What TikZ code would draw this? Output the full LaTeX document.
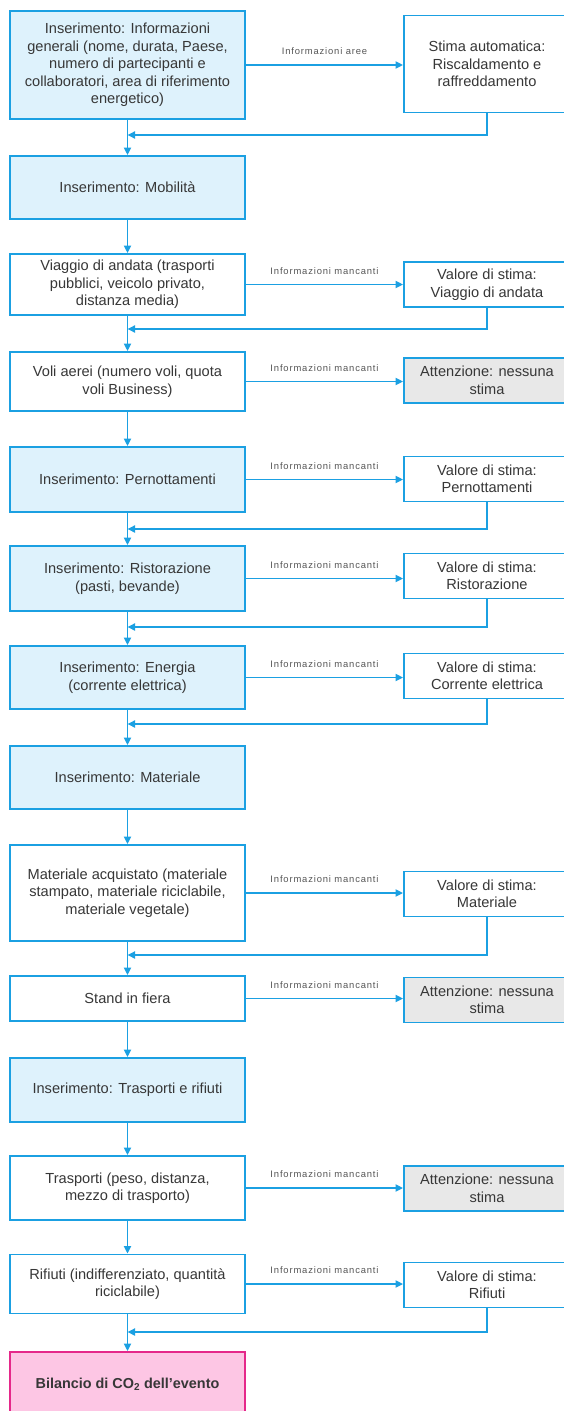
\documentclass[tikz,border=0pt]{standalone}
\usepackage{fontspec}
\setmainfont{Liberation Sans}
\usetikzlibrary{arrows.meta}
\definecolor{lineblue}{RGB}{27,160,226}
\definecolor{fillblue}{RGB}{222,242,252}
\definecolor{fillgray}{RGB}{232,232,232}
\definecolor{fillpink}{RGB}{253,198,228}
\definecolor{pinkline}{RGB}{229,40,138}
\definecolor{textgray}{RGB}{55,55,55}
\definecolor{lblgray}{RGB}{85,85,85}
\begin{document}
\begin{tikzpicture}[x=1pt,y=-1pt,
  basebox/.style={draw=lineblue, line width=1.8pt, text=textgray,
    font=\fontsize{14.6}{17.5}\selectfont, align=center, inner sep=0pt},
  inbox/.style={basebox, fill=fillblue, minimum width=235pt},
  wbox/.style={basebox, fill=white, minimum width=235pt},
  rbox/.style={basebox, fill=white, minimum width=166pt, minimum height=45pt},
  gbox/.style={basebox, fill=fillgray, minimum width=166pt, minimum height=45pt},
  resbox/.style={basebox, draw=pinkline, fill=fillpink, minimum width=235pt,
    font=\fontsize{14.4}{17}\selectfont\bfseries},
  arr/.style={draw=lineblue, line width=1.8pt, -{Triangle[length=7.5pt,width=7pt]}},
  lbl/.style={text=lblgray, inner sep=0pt, above=9.5pt,
    font=\fontsize{9.4}{11}\selectfont\addfontfeature{LetterSpace=9}}
]
\useasboundingbox (0,0) rectangle (563,1411);

% left column
\node[inbox, minimum height=108pt] (l1) at (127.5,65) {Inserimento: Informazioni\\generali (nome, durata, Paese,\\numero di partecipanti e\\collaboratori, area di riferimento\\energetico)};
\node[inbox, minimum height=63pt] (l2) at (127.5,187.5) {Inserimento: Mobilità};
\node[wbox, minimum height=61pt] (l3) at (127.5,284.5) {Viaggio di andata (trasporti\\pubblici, veicolo privato,\\distanza media)};
\node[wbox, minimum height=59pt] (l4) at (127.5,381.5) {Voli aerei (numero voli, quota\\voli Business)};
\node[inbox, minimum height=65pt] (l5) at (127.5,479.5) {Inserimento: Pernottamenti};
\node[inbox, minimum height=65pt] (l6) at (127.5,578.5) {Inserimento: Ristorazione\\(pasti, bevande)};
\node[inbox, minimum height=63pt] (l7) at (127.5,677.5) {Inserimento: Energia\\(corrente elettrica)};
\node[inbox, minimum height=63pt] (l8) at (127.5,777.5) {Inserimento: Materiale};
\node[wbox, minimum height=96pt] (l9) at (127.5,893) {Materiale acquistato (materiale\\stampato, materiale riciclabile,\\materiale vegetale)};
\node[wbox, minimum height=45pt] (l10) at (127.5,998.5) {Stand in fiera};
\node[inbox, minimum height=64pt] (l11) at (127.5,1090) {Inserimento: Trasporti e rifiuti};
\node[wbox, minimum height=64pt] (l12) at (127.5,1188) {Trasporti (peso, distanza,\\mezzo di trasporto)};
\node[wbox, minimum height=59pt] (l13) at (127.5,1284) {Rifiuti (indifferenziato, quantità\\riciclabile)};
\node[resbox, minimum height=64pt] (l14) at (127.5,1384) {Bilancio di CO\textsubscript{2} dell'evento};

% right column
\node[rbox, minimum height=97pt] (r1) at (487,64) {Stima automatica:\\Riscaldamento e\\raffreddamento};
\node[rbox] (r3) at (487,284.5) {Valore di stima:\\Viaggio di andata};
\node[gbox] (r4) at (487,380.5) {Attenzione: nessuna\\stima};
\node[rbox] (r5) at (487,479) {Valore di stima:\\Pernottamenti};
\node[rbox] (r6) at (487,576) {Valore di stima:\\Ristorazione};
\node[rbox] (r7) at (487,676) {Valore di stima:\\Corrente elettrica};
\node[rbox] (r9) at (487,894) {Valore di stima:\\Materiale};
\node[gbox] (r10) at (487,1000) {Attenzione: nessuna\\stima};
\node[gbox] (r12) at (487,1188.5) {Attenzione: nessuna\\stima};
\node[rbox] (r13) at (487,1285) {Valore di stima:\\Rifiuti};

% vertical flow
\foreach \a/\b in {l1/l2,l2/l3,l3/l4,l4/l5,l5/l6,l6/l7,l7/l8,l8/l9,l9/l10,l10/l11,l11/l12,l12/l13,l13/l14}
  \draw[arr] (\a) -- (\b);

% horizontal arrows
\draw[arr] (l1.east) -- node[lbl] {Informazioni aree} (l1.east -| r1.west);
\foreach \a/\b in {l3/r3,l4/r4,l5/r5,l6/r6,l7/r7,l9/r9,l10/r10,l12/r12,l13/r13}
  \draw[arr] (\a.east) -- node[lbl] {Informazioni mancanti} (\a.east -| \b.west);

% feedback lines
\coordinate (f1) at (127.5,135);
\coordinate (f3) at (127.5,329);
\coordinate (f5) at (127.5,529);
\coordinate (f6) at (127.5,627);
\coordinate (f7) at (127.5,724);
\coordinate (f9) at (127.5,955);
\coordinate (f13) at (127.5,1332);
\foreach \r/\f in {r1/f1,r3/f3,r5/f5,r6/f6,r7/f7,r9/f9,r13/f13}
  \draw[arr] (\r.south) |- (\f);
\end{tikzpicture}
\end{document}
